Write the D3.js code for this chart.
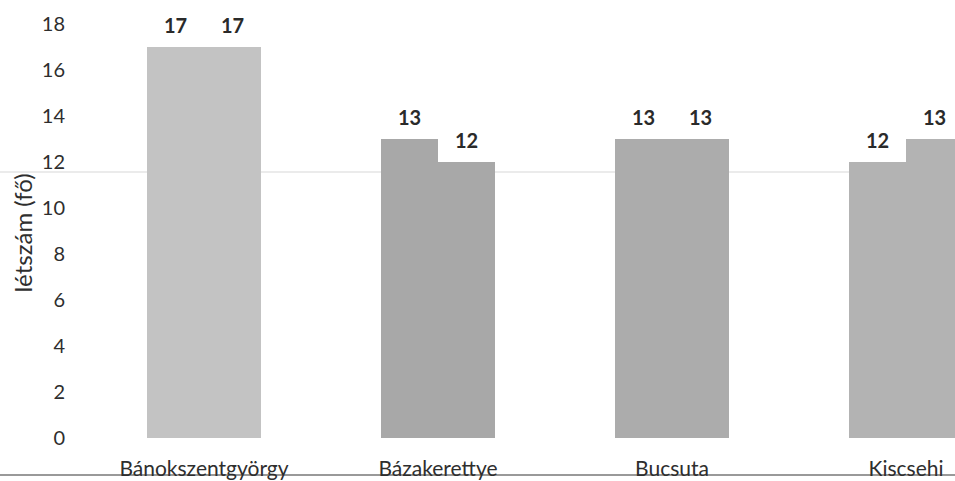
<!DOCTYPE html>
<html><head><meta charset="utf-8">
<script src="https://cdn.jsdelivr.net/npm/d3@7"></script>
<style>body{margin:0;background:#fff;} svg{display:block;}</style>
</head><body>
<svg id="c" width="955" height="481"></svg>
<script>
const categories = ["Bánokszentgyörgy", "Bázakerettye", "Bucsuta", "Kiscsehi"];
const series1 = [17, 13, 13, 12];
const series2 = [17, 12, 13, 13];
const yTicks = [0, 2, 4, 6, 8, 10, 12, 14, 16, 18];
const yTitle = "létszám (fő)";
const barColors = ["#c3c3c3", "#a8a8a8", "#acacac", "#b3b3b3"];

const svg = d3.select("#c");
const font = "Lato, 'Open Sans', sans-serif";
const textCol = "#2e2e2e";

const y = d3.scaleLinear().domain([0, 18]).range([438, 24]);
const x = d3.scaleBand().domain(categories).range([87, 1023]).paddingInner(0).paddingOuter(0);
const inner = d3.scaleBand().domain([0, 1]).range([0, 114]);

// scan artifact line
svg.append("line").attr("x1", 0).attr("x2", 955).attr("y1", 172).attr("y2", 172)
  .attr("stroke", "#e4e4e4").attr("stroke-width", 1.5);

const data = [];
categories.forEach((c, i) => {
  data.push({c, s: 0, v: series1[i], col: barColors[i]});
  data.push({c, s: 1, v: series2[i], col: barColors[i]});
});

const off = (x.bandwidth() - 114) / 2;
svg.selectAll("rect.bar").data(data).enter().append("rect")
  .attr("class", "bar")
  .attr("x", d => x(d.c) + off + inner(d.s))
  .attr("width", inner.bandwidth())
  .attr("y", d => y(d.v))
  .attr("height", d => y(0) - y(d.v))
  .attr("fill", d => d.col);

svg.selectAll("text.val").data(data).enter().append("text")
  .attr("class", "val")
  .attr("x", d => x(d.c) + off + inner(d.s) + inner.bandwidth() / 2)
  .attr("y", d => y(d.v) - 22)
  .attr("text-anchor", "middle").attr("dominant-baseline", "central")
  .attr("font-family", font).attr("font-size", 20).attr("font-weight", 700)
  .attr("fill", "#2a2a2a")
  .text(d => d.v);

// y axis (labels only)
const yAxis = d3.axisLeft(y).tickValues(yTicks).tickSize(0).tickPadding(0);
const ga = svg.append("g").attr("transform", "translate(65,0)").call(yAxis);
ga.select(".domain").remove();
ga.selectAll("text").attr("font-family", font).attr("font-size", 20).attr("fill", textCol);

svg.append("text")
  .attr("transform", "translate(22,233) rotate(-90)")
  .attr("text-anchor", "middle").attr("dominant-baseline", "central")
  .attr("font-family", font).attr("font-size", 24).attr("fill", textCol)
  .text(yTitle);

// bottom line
svg.append("line").attr("x1", 0).attr("x2", 955).attr("y1", 475).attr("y2", 475)
  .attr("stroke", "#777").attr("stroke-width", 1.5);

// x axis labels
const xAxis = d3.axisBottom(x).tickSize(0).tickPadding(0);
const gx = svg.append("g").attr("transform", "translate(0,460)").call(xAxis);
gx.select(".domain").remove();
gx.selectAll("text").attr("font-family", font).attr("font-size", 21).attr("fill", textCol)
  .attr("dy", "0.75em");
</script>
</body></html>
